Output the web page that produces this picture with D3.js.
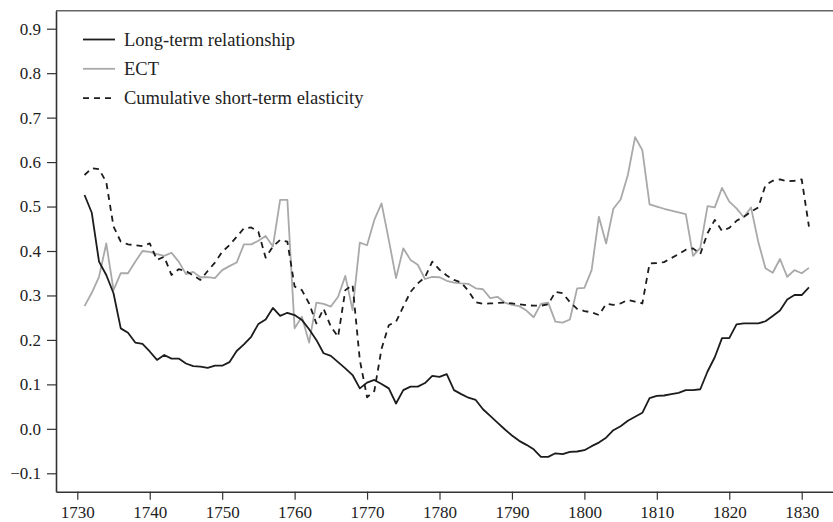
<!DOCTYPE html>
<html>
<head>
<meta charset="utf-8">
<script src="https://cdn.jsdelivr.net/npm/d3@7"></script>
<style>
  html, body { margin: 0; padding: 0; background: #fff; }
  svg { display: block; }
  text { font-family: "Liberation Serif", "DejaVu Serif", serif; fill: #222; }
</style>
</head>
<body>
<svg id="chart" width="833" height="522"></svg>
<script>
// ---- Data ----
const startYear = 1731;
const longTerm = [
  0.526, 0.486, 0.376, 0.346, 0.305, 0.226, 0.216, 0.194, 0.191, 0.174,
  0.155, 0.166, 0.158, 0.158, 0.147, 0.141, 0.140, 0.137, 0.142, 0.142,
  0.150, 0.175, 0.190, 0.207, 0.236, 0.246, 0.272, 0.254, 0.261, 0.256,
  0.245, 0.224, 0.200, 0.170, 0.164, 0.150, 0.136, 0.121, 0.091, 0.104,
  0.110, 0.101, 0.091, 0.057, 0.087, 0.095, 0.095, 0.103, 0.119, 0.117,
  0.123, 0.087, 0.078, 0.070, 0.065, 0.044, 0.029, 0.014, -0.001, -0.015,
  -0.027, -0.036, -0.046, -0.063, -0.063, -0.055, -0.057, -0.052, -0.051, -0.048,
  -0.039, -0.031, -0.020, -0.003, 0.006, 0.018, 0.027, 0.036, 0.069, 0.074,
  0.075, 0.078, 0.081, 0.087, 0.087, 0.089, 0.129, 0.161, 0.204, 0.204,
  0.235, 0.237, 0.237, 0.237, 0.242, 0.254, 0.266, 0.291, 0.301, 0.301,
  0.318
];
const ect = [
  0.276, 0.306, 0.342, 0.417, 0.312, 0.350, 0.350, 0.376, 0.400, 0.398,
  0.393, 0.389, 0.396, 0.376, 0.348, 0.353, 0.341, 0.341, 0.339, 0.357,
  0.366, 0.374, 0.415, 0.415, 0.423, 0.434, 0.410, 0.515, 0.515, 0.226,
  0.252, 0.194, 0.284, 0.281, 0.275, 0.297, 0.344, 0.267, 0.419, 0.413,
  0.470, 0.507, 0.425, 0.339, 0.406, 0.380, 0.369, 0.337, 0.342, 0.341,
  0.333, 0.329, 0.327, 0.326, 0.316, 0.314, 0.294, 0.297, 0.284, 0.279,
  0.276, 0.266, 0.251, 0.281, 0.284, 0.241, 0.239, 0.246, 0.316, 0.317,
  0.357, 0.477, 0.417, 0.495, 0.516, 0.571, 0.656, 0.627, 0.505, 0.500,
  0.495, 0.491, 0.487, 0.483, 0.389, 0.407, 0.501, 0.498, 0.542, 0.511,
  0.496, 0.476, 0.498, 0.421, 0.361, 0.351, 0.382, 0.342, 0.357, 0.350,
  0.362
];
const cumulative = [
  0.571, 0.586, 0.584, 0.555, 0.455, 0.421, 0.415, 0.413, 0.411, 0.417,
  0.380, 0.387, 0.346, 0.359, 0.355, 0.345, 0.335, 0.355, 0.374, 0.398,
  0.413, 0.432, 0.451, 0.453, 0.443, 0.385, 0.410, 0.425, 0.421, 0.320,
  0.312, 0.282, 0.237, 0.270, 0.230, 0.207, 0.312, 0.324, 0.155, 0.071,
  0.085, 0.180, 0.233, 0.241, 0.275, 0.308, 0.327, 0.341, 0.376, 0.358,
  0.345, 0.335, 0.329, 0.310, 0.285, 0.281, 0.282, 0.283, 0.284, 0.282,
  0.280, 0.278, 0.277, 0.277, 0.280, 0.308, 0.305, 0.285, 0.270, 0.265,
  0.262, 0.256, 0.281, 0.279, 0.282, 0.290, 0.286, 0.282, 0.372, 0.373,
  0.375, 0.384, 0.393, 0.403, 0.406, 0.393, 0.440, 0.470, 0.445, 0.452,
  0.468, 0.477, 0.488, 0.498, 0.548, 0.558, 0.561, 0.557, 0.558, 0.561,
  0.455
];
const seriesNames = ["Long-term relationship", "ECT", "Cumulative short-term elasticity"];
const xTicks = [1730, 1740, 1750, 1760, 1770, 1780, 1790, 1800, 1810, 1820, 1830];
const yTicks = [-0.1, 0.0, 0.1, 0.2, 0.3, 0.4, 0.5, 0.6, 0.7, 0.8, 0.9];

// ---- Layout ----
const svg = d3.select("#chart");
const plotL = 56, plotR = 833, plotT = 10.7, plotB = 491.7;
const serif = '"Liberation Serif", "DejaVu Serif", serif';

const x = d3.scaleLinear().domain([1727.06, 1834.32]).range([plotL, plotR]);
const y = d3.scaleLinear().domain([-0.1414, 0.9405]).range([plotB, plotT]);

// top border
svg.append("line")
  .attr("x1", plotL).attr("x2", plotR)
  .attr("y1", plotT).attr("y2", plotT)
  .attr("stroke", "#666").attr("stroke-width", 1.5);

// axes
const xAxis = svg.append("g")
  .attr("transform", `translate(0,${plotB})`)
  .call(d3.axisBottom(x).tickValues(xTicks).tickFormat(d3.format("d"))
        .tickSize(8).tickSizeOuter(0).tickPadding(6));
const yAxis = svg.append("g")
  .attr("transform", `translate(${plotL},0)`)
  .call(d3.axisLeft(y).tickValues(yTicks).tickFormat(d3.format(".1f"))
        .tickSize(9).tickSizeOuter(0).tickPadding(6));

[xAxis, yAxis].forEach(g => {
  g.attr("font-family", serif).attr("font-size", 17);
  g.select(".domain").attr("stroke", "#333").attr("stroke-width", 1.6);
  g.selectAll(".tick line").attr("stroke", "#333").attr("stroke-width", 1.2);
  g.selectAll(".tick text")
    .attr("fill", "#222")
    .style("font-family", serif)
    .style("font-size", "17px");
});

// lines
const toPoints = arr => arr.map((v, i) => ({ year: startYear + i, v }));
const line = d3.line().x(d => x(d.year)).y(d => y(d.v));

const series = [
  { name: seriesNames[0], data: longTerm, color: "#1c1c1c", dash: null, width: 1.8 },
  { name: seriesNames[1], data: ect, color: "#a9a9a9", dash: null, width: 1.8 },
  { name: seriesNames[2], data: cumulative, color: "#1c1c1c", dash: "6,5", width: 1.8 }
];

svg.append("g").selectAll("path")
  .data([series[1], series[0], series[2]])
  .join("path")
  .attr("d", s => line(toPoints(s.data)))
  .attr("fill", "none")
  .attr("stroke", s => s.color)
  .attr("stroke-width", s => s.width)
  .attr("stroke-dasharray", s => s.dash)
  .attr("stroke-linejoin", "round");

// legend
const legend = svg.append("g").attr("transform", "translate(83,39.5)");
const items = legend.selectAll("g").data(series).join("g")
  .attr("transform", (d, i) => `translate(0,${i * 29.3})`);
items.append("line")
  .attr("x1", 0).attr("x2", 32).attr("y1", 0).attr("y2", 0)
  .attr("stroke", d => d.color)
  .attr("stroke-width", d => d.width)
  .attr("stroke-dasharray", d => d.dash);
items.append("text")
  .attr("x", 41).attr("y", 0).attr("dy", "0.33em")
  .style("font-family", serif)
  .style("font-size", "18.5px")
  .text(d => d.name);
</script>
</body>
</html>
